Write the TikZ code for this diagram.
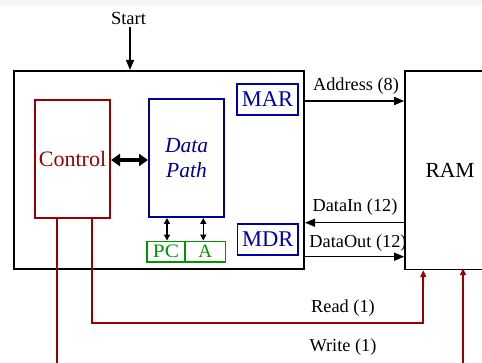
\documentclass[tikz,border=0pt]{standalone}
\usepackage{fontspec}
\setmainfont{Liberation Serif}
\usetikzlibrary{arrows.meta}
\definecolor{ctlred}{RGB}{153,0,0}
\definecolor{dpblue}{RGB}{0,0,153}
\definecolor{regblue}{RGB}{0,0,170}
\definecolor{reggreen}{RGB}{0,150,0}
\tikzset{
  unit/.style={draw, line width=2pt, inner sep=0pt},
  ctlbox/.style={unit, draw=ctlred, text=ctlred},
  dpbox/.style={unit, draw=dpblue, text=dpblue},
  regbox/.style={unit, draw=regblue, text=regblue, line width=1.8pt},
  smallreg/.style={unit, draw=reggreen, text=reggreen, line width=1.8pt},
  lbl/.style={inner sep=0pt, font=\fontsize{18.3}{20}\selectfont},
  bus/.style={line width=1.4pt, -{Triangle[length=10pt,width=8pt]}},
  twoway/.style={line width=1.6pt, {Triangle[length=6pt,width=6pt]}-{Triangle[length=6pt,width=6pt]}},
  ctlline/.style={draw=ctlred, line width=2pt},
  ctlarrow/.style={ctlline, -{Triangle[length=7pt,width=6pt]}},
}
\begin{document}
\begin{tikzpicture}[x=1pt,y=-1pt]
  \useasboundingbox (0,0) rectangle (482,363);
  \clip (0,0) rectangle (482,363);
  \fill[gray!7] (0,0) rectangle (482,6.5);

  % processor outline and its parts
  \node[unit, minimum width=290pt, minimum height=198.5pt] (cpu) at (159,170.2) {};
  \node[ctlbox, minimum width=75pt, minimum height=118pt,
        font=\fontsize{22}{24}\selectfont] (ctl) at (72.5,159) {Control};
  \node[dpbox, minimum width=75pt, minimum height=118pt, align=center,
        font=\fontsize{21.5}{25}\selectfont\itshape] (dp) at (186.5,158) {Data\\Path};
  \node[smallreg, minimum width=38pt, minimum height=20.5pt,
        font=\fontsize{19}{20}\selectfont] (pc) at (166,251.7) {\scalebox{1.12}[1]{PC}};
  \node[smallreg, minimum width=40.5pt, minimum height=20.5pt,
        font=\fontsize{19}{20}\selectfont] (acc) at (205.3,251.7) {A};
  \node[regbox, minimum width=60.5pt, minimum height=31pt,
        font=\fontsize{22.5}{24}\selectfont] (mar) at (267.4,99.5) {MAR};
  \node[regbox, minimum width=60.5pt, minimum height=31pt,
        font=\fontsize{22.5}{24}\selectfont] (mdr) at (267.8,239.3) {MDR};

  % memory
  \node[unit, line width=1.6pt, minimum width=90pt, minimum height=198.5pt,
        font=\fontsize{21.5}{23}\selectfont] (ram) at (450,170.2) {RAM};

  % start signal
  \node[lbl, font=\fontsize{18.5}{20}\selectfont] (start) at (128.5,18) {Start};
  \draw[bus] ([xshift=1.5pt,yshift=-3pt]start.south) -- ([xshift=1.5pt]start.south |- cpu.north);

  % control <-> data path
  \coordinate (linkY) at (0,160);
  \draw[line width=3.5pt, {Triangle[length=9pt,width=12pt]}-{Triangle[length=9pt,width=12pt]}]
    (ctl.east |- linkY) -- (dp.west |- linkY);

  % data path <-> registers
  \draw[twoway] ([xshift=1pt]pc.north |- dp.south) -- ([xshift=1pt]pc.north);
  \draw[twoway] ([xshift=-2pt]acc.north |- dp.south) -- ([xshift=-2pt]acc.north);

  % buses between processor and memory
  \coordinate (addrY) at (0,101);
  \coordinate (dinY) at (0,222.7);
  \coordinate (doutY) at (0,256.7);
  \draw[bus] (cpu.east |- addrY) -- (ram.west |- addrY);
  \draw[bus] (ram.west |- dinY) -- (cpu.east |- dinY);
  \draw[bus] (cpu.east |- doutY) -- (ram.west |- doutY);
  \node[lbl] (addrlbl) at (356,86) {Address (8)};
  \node[lbl] (dinlbl) at (355,207) {DataIn (12)};
  \node[lbl] (doutlbl) at (358,243) {DataOut (12)};

  % control lines to memory
  \coordinate (readY) at (0,322.7);
  \coordinate (readX) at (423.3,0);
  \coordinate (writeX) at (463,0);
  \coordinate (readL) at (92,0);
  \coordinate (writeL) at (57,0);
  \coordinate (bottom) at (0,366);
  \draw[ctlarrow] (readL |- ctl.south) -- (readL |- readY) -- (readX |- readY) -- (readX |- ram.south);
  \draw[ctlline] (writeL |- ctl.south) -- (writeL |- bottom);
  \draw[ctlarrow] (writeX |- bottom) -- ([yshift=2pt]writeX |- ram.south);
  \node[lbl] (readlbl) at (343,308) {Read (1)};
  \node[lbl] (writelbl) at (343,347) {Write (1)};
\end{tikzpicture}
\end{document}
